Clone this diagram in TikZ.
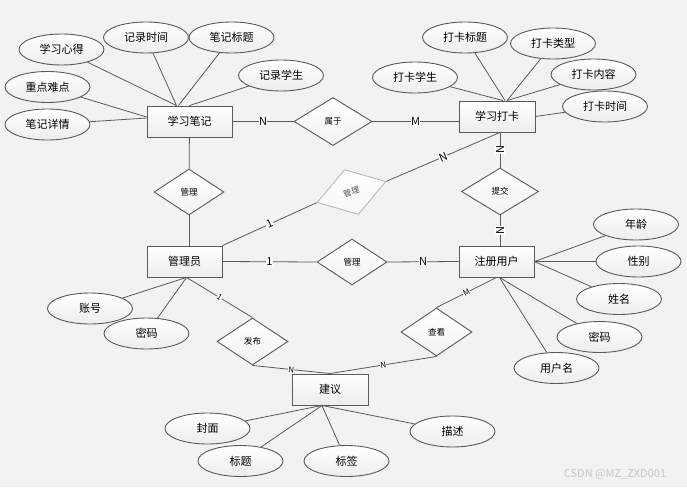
\documentclass[tikz,border=0pt]{standalone}
\usepackage{fontspec}
\setmainfont{Noto Sans CJK SC}
\usepackage{xcolor}
\usetikzlibrary{positioning, shapes.geometric, calc}

\definecolor{bgcol}{HTML}{F2F2F2}
\definecolor{linecol}{HTML}{5A5A5A}

\tikzset{
    entity/.style={rectangle, draw=linecol, line width=0.9pt, top color=white, bottom color=black!7,
        minimum width=76pt, minimum height=31pt, font=\fontsize{11}{13}\selectfont},
    attr/.style={ellipse, draw=linecol, line width=0.9pt, top color=white, bottom color=black!7,
        minimum width=85pt, minimum height=31pt, inner sep=0pt, font=\fontsize{11}{13}\selectfont},
    rel/.style={diamond, draw=linecol, line width=0.9pt, top color=white, bottom color=black!5,
        minimum width=72pt, minimum height=47pt, inner sep=0pt, font=\fontsize{8.5}{10}\selectfont},
    card/.style={fill=white, inner sep=0.5pt, font=\fontsize{11}{12}\selectfont},
    smallcard/.style={fill=white, inner sep=0.3pt, font=\fontsize{8}{9}\selectfont},
    link/.style={draw=linecol, line width=0.8pt}
}

\begin{document}
\begin{tikzpicture}[x=1pt, y=-1pt]
            % Define the background
            \fill[bgcol] (0,0) rectangle (687,487);
            \useasboundingbox (0,0) rectangle (687,487);

            % Define the entities
            \node[entity, minimum width=85pt] (xxbj) at (189.5,121.5) {学习笔记};
            \node[entity] (xxdk) at (497,116.5) {学习打卡};
            \node[entity, minimum width=75pt] (gly) at (184.5,261.5) {管理员};
            \node[entity, minimum width=75pt] (zcyh) at (496.5,261.5) {注册用户};
            \node[entity] (jy) at (330,389.5) {建议};

            % Define the relations
            \node[rel, minimum width=78pt, minimum height=48pt] (sy) at (333,121.5) {属于};
            \node[rel, minimum width=70pt, minimum height=46pt] (gl1) at (189,192) {管理};
            \node[rel, rotate=17, draw=black!28, text=black!70, bottom color=black!3,
                font=\fontsize{8}{9}\selectfont] (gl2) at (351.5,192) {管理};
            \node[rel, minimum width=70pt, minimum height=46pt] (gl3) at (352,262) {管理};
            \node[rel, minimum width=77pt] (tj) at (500,191.5) {提交};
            \node[rel, minimum width=71pt] (fb) at (252.5,341.5) {发布};
            \node[rel, minimum width=71pt, minimum height=48pt] (ck) at (436.5,332) {查看};

            % Define the attributes of 学习笔记
            \node[attr] (a1) at (61.5,49.5) {学习心得};
            \node[attr] (a2) at (146,37.5) {记录时间};
            \node[attr] (a3) at (231.5,37.5) {笔记标题};
            \node[attr] (a4) at (281,75.5) {记录学生};
            \node[attr] (a5) at (47.5,87) {重点难点};
            \node[attr] (a6) at (47.5,124.5) {笔记详情};

            % Define the attributes of 学习打卡
            \node[attr] (b1) at (465,37.5) {打卡标题};
            \node[attr] (b2) at (553,43.5) {打卡类型};
            \node[attr] (b3) at (415,77.5) {打卡学生};
            \node[attr] (b4) at (593.5,74.5) {打卡内容};
            \node[attr] (b5) at (605,106.5) {打卡时间};

            % Define the attributes of 注册用户
            \node[attr] (c1) at (636,224.5) {年龄};
            \node[attr] (c2) at (638.5,261.5) {性别};
            \node[attr] (c3) at (619,299) {姓名};
            \node[attr] (c4) at (599.5,337) {密码};
            \node[attr] (c5) at (556.5,368) {用户名};

            % Define the attributes of 管理员
            \node[attr] (d1) at (90,308.5) {账号};
            \node[attr] (d2) at (146.5,333.5) {密码};

            % Define the attributes of 建议
            \node[attr] (e1) at (207.5,428.5) {封面};
            \node[attr] (e2) at (240.5,461) {标题};
            \node[attr] (e3) at (346.5,461) {标签};
            \node[attr] (e4) at (452.5,431.5) {描述};

            % Draw the attribute links
            \draw[link] (a1) -- ([xshift=-13pt]xxbj.north);
            \draw[link] (a2) -- ([xshift=-13pt]xxbj.north);
            \draw[link] (a3) -- ([xshift=-11pt]xxbj.north);
            \draw[link] (a4) -- (xxbj.north);
            \draw[link] (a5) -- ([yshift=4.5pt]xxbj.west);
            \draw[link] (a6) -- ([yshift=3.5pt]xxbj.west);

            \draw[link] (b1) -- ([xshift=8pt]xxdk.north);
            \draw[link] (b2) -- ([xshift=10pt]xxdk.north);
            \draw[link] (b3) -- ([xshift=6pt]xxdk.north);
            \draw[link] (b4) -- ([xshift=10pt]xxdk.north);
            \draw[link] (b5) -- (xxdk.east);

            \draw[link] (c1) -- (zcyh.east);
            \draw[link] (c2) -- (zcyh.east);
            \draw[link] (c3) -- (zcyh.east);
            \draw[link] (c4) -- ([xshift=3pt]zcyh.south);
            \draw[link] (c5) -- ([xshift=3pt]zcyh.south);

            \draw[link] (d1) -- ([xshift=2pt]gly.south);
            \draw[link] (d2) -- ([xshift=2pt]gly.south);

            \draw[link] (e1) -- ([xshift=-8pt]jy.south);
            \draw[link] (e2) -- ([xshift=-8pt]jy.south);
            \draw[link] (e3) -- ([xshift=-8pt]jy.south);
            \draw[link] (e4) -- ([xshift=-8pt]jy.south);

            % Draw the relation links
            \draw[link] (xxbj.east) -- (sy.west) node[card, midway] {N};
            \draw[link] (sy.east) -- (sy.east -| xxdk.west) node[card, midway] {M};
            \draw[link] (xxbj) -- (gl1);
            \draw[link] (gl1.south) -- (gl1.south |- gly.north);
            \draw[link] (gly.north east) -- (gl2.west) node[card, midway, sloped] {1};
            \draw[link] (gl2.east) -- ([xshift=3pt]xxdk.south) node[card, midway, sloped] {N};
            \draw[link] (tj.north) -- (tj.north |- xxdk.south) node[card, midway, rotate=90] {N};
            \draw[link] (tj.south) -- (tj.south |- zcyh.north) node[card, midway, rotate=90] {N};
            \draw[link] (gly.east) -- (gl3.west) node[card, midway] {1};
            \draw[link] (gl3.east) -- (zcyh.west) node[card, midway] {N};
            \draw[link] ([xshift=2pt]gly.south) -- (fb.north) node[smallcard, midway, sloped] {1};
            \draw[link] (fb.south) -- (jy.north) node[smallcard, midway, sloped] {N};
            \draw[link] (zcyh.south) -- (ck.north) node[smallcard, midway, sloped] {M};
            \draw[link] (ck.south) -- (jy.north) node[smallcard, midway, sloped] {N};

            % Draw the watermark
            \node[text=black!22, font=\fontsize{11}{13}\selectfont] (mark) at (615,474) {CSDN @MZ\_ZXD001};

        \end{tikzpicture}
\end{document}
